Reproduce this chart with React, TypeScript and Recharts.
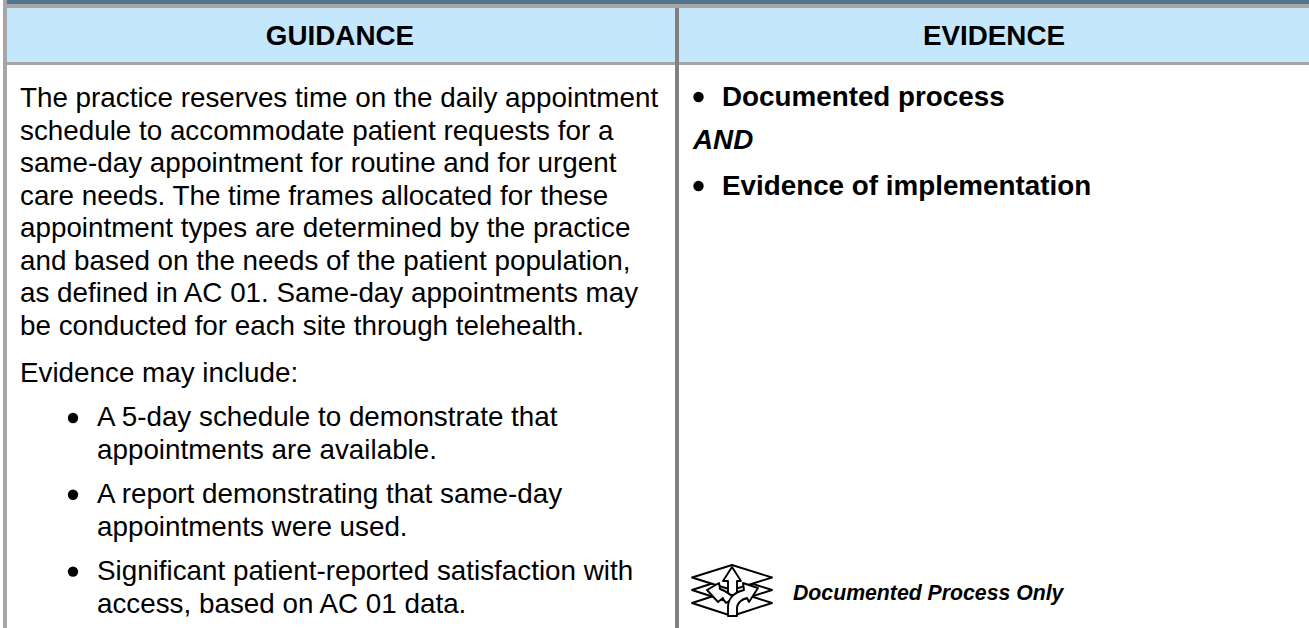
import React from 'react';
import { ComposedChart, XAxis, YAxis, Scatter, ReferenceArea } from 'recharts';

const W = 1309, H = 628;
const FONT = '"Liberation Sans", Arial, sans-serif';

const headers = ['GUIDANCE', 'EVIDENCE'];
const guidanceLines = [
  'The practice reserves time on the daily appointment',
  'schedule to accommodate patient requests for a',
  'same-day appointment for routine and for urgent',
  'care needs. The time frames allocated for these',
  'appointment types are determined by the practice',
  'and based on the needs of the patient population,',
  'as defined in AC 01. Same-day appointments may',
  'be conducted for each site through telehealth.',
];
const evidenceIntro = ['Evidence may include:'];
const guidanceBullets = [
  ['A 5-day schedule to demonstrate that', 'appointments are available.'],
  ['A report demonstrating that same-day', 'appointments were used.'],
  ['Significant patient-reported satisfaction with', 'access, based on AC 01 data.'],
];
const evidenceItems = ['Documented process', 'AND', 'Evidence of implementation'];
const iconCaption = 'Documented Process Only';

type T = { x: number; y: number; text: string; size?: number; weight?: string; style?: string; anchor?: string };
const rows: T[] = [];
const dots: { x: number; y: number }[] = [];
rows.push({ x: 340, y: 45, text: headers[0], weight: 'bold', anchor: 'middle' });
rows.push({ x: 994, y: 45, text: headers[1], weight: 'bold', anchor: 'middle' });
guidanceLines.forEach((t, i) => rows.push({ x: 20, y: 107 + i * 32.5, text: t }));
rows.push({ x: 20, y: 382, text: evidenceIntro[0] });
guidanceBullets.forEach((b, i) => {
  const y0 = 426 + i * 76.8;
  dots.push({ x: 73, y: y0 - 8 });
  b.forEach((t, j) => rows.push({ x: 97, y: y0 + j * 33, text: t }));
});
dots.push({ x: 698.5, y: 97 }, { x: 698.5, y: 186 });
rows.push({ x: 722, y: 106, text: evidenceItems[0], weight: 'bold' });
rows.push({ x: 693, y: 149, text: evidenceItems[1], weight: 'bold', style: 'italic' });
rows.push({ x: 722, y: 195, text: evidenceItems[2], weight: 'bold' });
rows.push({ x: 793, y: 600, text: iconCaption, weight: 'bold', style: 'italic', size: 21.25 });

const TextMark = (p: any) => {
  const d = p.payload as T;
  return (
    <text x={p.cx} y={p.cy} fontFamily={FONT} fontSize={d.size ?? 27.8} fontWeight={d.weight ?? 'normal'}
      fontStyle={d.style ?? 'normal'} textAnchor={d.anchor ?? 'start'} fill="#000">{d.text}</text>
  );
};
const DotMark = (p: any) => <circle cx={p.cx} cy={p.cy} r={5.2} fill="#000" />;

const IconMark = (p: any) => {
  const w = { fill: '#fff', stroke: '#000', strokeWidth: 1.9, strokeLinejoin: 'round' as const };
  return (
    <g transform={`translate(${p.cx} ${p.cy})`}>
      <path {...w} d="M0 38 L40 25 L80 38 L40 51 Z" />
      <path {...w} d="M0 25 L40 12 L80 25 L40 38 Z" />
      <path {...w} d="M0 12.5 L40 0 L80 12.5 L40 25 Z" />
      <path {...w} d="M40 2 L49 16 L45 16 L45 30 L36 30 L36 16 L31 16 Z" />
      <path {...w} d="M15 25 L27 18 L28 24 C34 26 38 29 42 33 L34 38 C32 35 30 33 31 33 L26 37 Z" />
      <path {...w} d="M66 23 L51 18 L52 25 C43 27 36 33 36 42 L36 51 L45 51 L45 43 C45 38 50 34 55 33 L57 37 Z" />
    </g>
  );
};

export default function App() {
  return (
    <div style={{ position: 'absolute', left: 0, top: 0, width: W, height: H, background: '#fff' }}>
      <ComposedChart width={W} height={H} margin={{ top: 0, right: 0, bottom: 0, left: 0 }} data={rows}>
        <XAxis type="number" dataKey="x" xAxisId="x" domain={[0, W]} hide allowDataOverflow />
        <YAxis type="number" dataKey="y" yAxisId="y" domain={[0, H]} reversed hide allowDataOverflow />
        <ReferenceArea xAxisId="x" yAxisId="y" x1={7} x2={W} y1={0} y2={4} fill="#4f758f" fillOpacity={1} stroke="none" />
        <ReferenceArea xAxisId="x" yAxisId="y" x1={7} x2={W} y1={4} y2={8} fill="#a6a6a6" fillOpacity={1} stroke="none" />
        <ReferenceArea xAxisId="x" yAxisId="y" x1={7} x2={W} y1={8} y2={62} fill="#c5e7fb" fillOpacity={1} stroke="none" />
        <ReferenceArea xAxisId="x" yAxisId="y" x1={7} x2={W} y1={62} y2={65} fill="#a6a6a6" fillOpacity={1} stroke="none" />
        <ReferenceArea xAxisId="x" yAxisId="y" x1={3} x2={7} y1={0} y2={H} fill="#a6a6a6" fillOpacity={1} stroke="none" />
        <ReferenceArea xAxisId="x" yAxisId="y" x1={675} x2={679} y1={8} y2={H} fill="#808080" fillOpacity={1} stroke="none" />
        <Scatter xAxisId="x" yAxisId="y" data={rows} dataKey="y" shape={TextMark} isAnimationActive={false} />
        <Scatter xAxisId="x" yAxisId="y" data={dots} dataKey="y" shape={DotMark} isAnimationActive={false} />
        <Scatter xAxisId="x" yAxisId="y" data={[{ x: 692, y: 565 }]} dataKey="y" shape={IconMark} isAnimationActive={false} />
      </ComposedChart>
    </div>
  );
}
